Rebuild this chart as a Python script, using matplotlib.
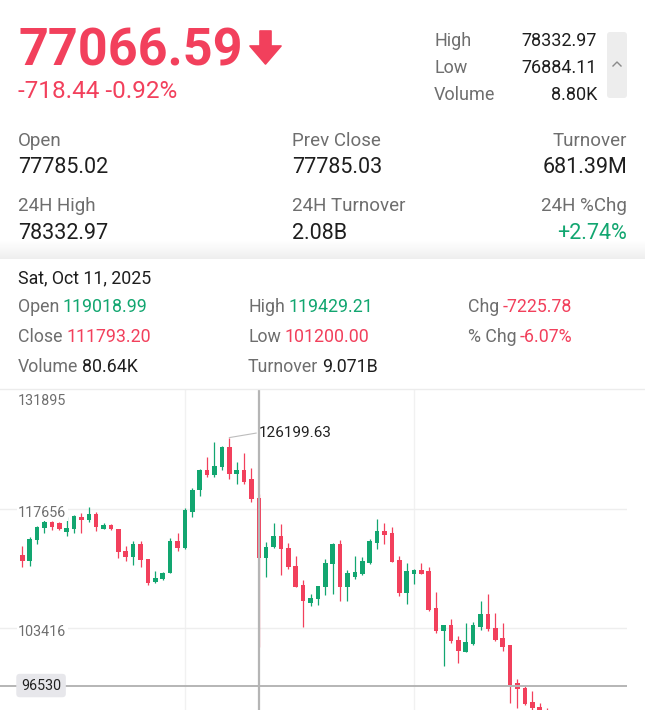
import numpy as np
import pandas as pd
import matplotlib
matplotlib.use('Agg')
import matplotlib.pyplot as plt
from matplotlib.patches import Polygon, FancyBboxPatch
from matplotlib.lines import Line2D
from matplotlib.transforms import IdentityTransform, offset_copy

plt.rcParams['font.family'] = ['Roboto', 'DejaVu Sans']

# daily candles, first one is Sep 9 2025
start_date = '2025-09-09'
opens = [112150, 111430, 113950, 115440, 116070, 116020, 114900, 115260, 116740, 116320,
         117100, 115260, 115740, 115300, 112630, 111910, 113410, 111670, 108920, 109280,
         110000, 113850, 112990, 117330, 119890, 122320, 121720, 122720, 125110, 121810,
         122320, 121210, 119018.99, 111760, 113110, 114370, 112950, 110840, 108560, 106440,
         106830, 108380, 111080, 113470, 108290, 109520, 109840, 111190, 113590, 115020,
         114750, 111550, 107570, 109850, 110360, 110240, 105770, 103090, 103780, 102030,
         100550, 101500, 103480, 105090, 103440, 102220, 101380, 96800, 96240, 94530,
         93960, 93300]
highs = [113230, 114300, 115680, 116640, 116280, 116140, 116660, 116940, 117130, 117900,
         117340, 116020, 115830, 115320, 113230, 113850, 113850, 111670, 110240, 110150,
         114210, 114790, 117720, 120110, 122440, 123880, 125710, 125200, 126199.63, 123320,
         124320, 122530, 119429.21, 113740, 115950, 115900, 113550, 112000, 109160, 107490,
         108500, 111640, 113550, 113950, 110300, 112070, 111970, 114070, 116420, 116040,
         115560, 112000, 111160, 110500, 111230, 110750, 107760, 103780, 104460, 102460,
         104050, 104140, 106680, 107490, 105250, 103980, 101380, 97290, 96480, 95840,
         94410, 93810]
lows = [110720, 110840, 113470, 114790, 115200, 115140, 114370, 114790, 114750, 116160,
        115080, 115230, 115140, 111790, 111430, 110900, 110660, 108560, 108840, 109160,
        110000, 112650, 112870, 116720, 119210, 121490, 121520, 122320, 121210, 120610,
        120650, 118530, 101200.00, 109560, 112990, 109760, 110420, 108320, 103480, 106050,
        106110, 107310, 107460, 106680, 106680, 109280, 109700, 111110, 112870, 113470,
        111350, 107250, 106270, 108650, 109880, 105510, 102860, 98870, 101590, 99190,
        100490, 101380, 103210, 103090, 101890, 100700, 94410, 93840, 94200, 93400,
        89500, 89900]
closes = [111430, 114070, 115500, 116070, 115560, 115230, 115350, 116860, 116320, 117060,
          115500, 115780, 115230, 112510, 111910, 113410, 111610, 108860, 109440, 110030,
          113850, 112990, 117540, 119970, 122320, 121670, 122840, 125110, 121840, 122320,
          120920, 118850, 111793.20, 113150, 114370, 112850, 110680, 108380, 106680, 106970,
          108480, 111190, 113470, 108290, 110000, 110060, 111430, 113850, 115020, 114550,
          111350, 107570, 110240, 110390, 109880, 105570, 103000, 103740, 101840, 100640,
          101710, 103780, 105090, 103260, 101980, 101140, 96540, 96090, 94360, 93810,
          91000, 91500]

price_ticks = [131895, 117656, 103416]
cross_date = '2025-10-11'
cross_price = 96530
peak_text = '126199.63'

RED = '#F2405C'
GREEN = '#12A670'
GRAY = '#6e6e6e'
DARK = '#1e1e1e'

W, H = 645, 710
fig = plt.figure(figsize=(W / 100, H / 100), dpi=100)
fig.patch.set_facecolor('white')


def put(x, y, s, size, color, ha='left', weight='normal'):
    # x, y in screen pixels from top-left, y is the baseline
    return fig.text(x / W, 1 - y / H, s, fontsize=size, color=color,
                    ha=ha, va='baseline', fontweight=weight)


# ---- header ----
put(18, 65, '77066.59', 37.5, RED, weight='bold')
arrow = [(260, 31), (271, 31), (271, 46), (281, 46), (265.5, 64), (250, 46), (260, 46)]
fig.add_artist(Polygon([(px, H - py) for px, py in arrow], closed=True, fc=RED, ec=RED,
                       lw=1.2, joinstyle='round', transform=IdentityTransform()))
put(18, 98, '-718.44 -0.92%', 17.5, RED)

for label, val, yb in [('High', '78332.97', 46.5), ('Low', '76884.11', 73), ('Volume', '8.80K', 100)]:
    put(434, yb, label, 13, GRAY)
    put(597, yb, val, 13, DARK, ha='right')
fig.add_artist(FancyBboxPatch((607, H - 98), 20, 66, boxstyle='round,pad=0,rounding_size=3',
                              fc='#ededed', ec='none', transform=IdentityTransform()))
fig.add_artist(Line2D([613, 617, 621], [H - 66, H - 62, H - 66], color='#8a8a8a', lw=1,
                      transform=IdentityTransform()))

put(18, 146, 'Open', 13.5, GRAY)
put(18, 173, '77785.02', 15.5, DARK)
put(292, 146, 'Prev Close', 13.5, GRAY)
put(292, 173, '77785.03', 15.5, DARK)
put(627, 146, 'Turnover', 13.5, GRAY, ha='right')
put(627, 173, '681.39M', 15.5, DARK, ha='right')
put(18, 211, '24H High', 13.5, GRAY)
put(18, 239, '78332.97', 15.5, DARK)
put(292, 211, '24H Turnover', 13.5, GRAY)
put(292, 239, '2.08B', 15.5, DARK)
put(627, 211, '24H %Chg', 13.5, GRAY, ha='right')
put(627, 239, '+2.74%', 15.5, GREEN, ha='right')

# soft shadow band under header
band = fig.add_axes([0, 1 - 259 / H, 1, 18 / H])
grad = np.linspace(1.0, 0.935, 40)[:, None]
band.imshow(np.dstack([grad, grad, grad]), aspect='auto', extent=(0, 1, 0, 1))
band.axis('off')

# ---- day info panel ----
renderer = fig.canvas.get_renderer()


def pair(x, y, label, val, color):
    t = put(x, y, label, 12.8, GRAY)
    bb = t.get_window_extent(renderer)
    fig.text((bb.x1 + 3.5) / W, 1 - y / H, val, fontsize=12.8, color=color,
             ha='left', va='baseline')


put(18, 283.5, 'Sat, Oct 11, 2025', 12.8, DARK)
pair(18, 312.5, 'Open', '119018.99', GREEN)
pair(248, 312.5, 'High', '119429.21', GREEN)
pair(468, 312.5, 'Chg', '-7225.78', RED)
pair(18, 342.5, 'Close', '111793.20', RED)
pair(248, 342.5, 'Low', '101200.00', RED)
pair(468, 342.5, '% Chg', '-6.07%', RED)
pair(18, 371.5, 'Volume', '80.64K', DARK)
pair(248, 371.5, 'Turnover', '9.071B', DARK)

fig.add_artist(Line2D([0, 1], [1 - 389 / H, 1 - 389 / H], color='#ececec', lw=1,
                      transform=fig.transFigure))

# ---- candle chart ----
ax = fig.add_axes([0, 0, 627 / W, 320 / H])
ax.set_facecolor('white')
for s in ax.spines.values():
    s.set_visible(False)
ax.set_xticks([])
ax.set_yticks([])

dates = pd.date_range(start_date, periods=len(opens), freq='D')
x = np.arange(len(opens))
o = np.array(opens)
hi = np.array(highs)
lo = np.array(lows)
c = np.array(closes)
cols = np.where(c >= o, GREEN, RED)

ax.vlines(x, lo, hi, colors=cols, lw=0.9, zorder=3)
ax.bar(x, np.maximum(np.abs(c - o), 120), bottom=np.minimum(o, c), width=0.62,
       color=cols, lw=0, zorder=3)

ax.set_xlim(-3.017, 81.82)
ax.set_ylim(93604, 131896)

for i in np.where(dates.day == 1)[0]:
    ax.axvline(i, color='#f1f1f1', lw=1, zorder=0)
for p in price_ticks[1:]:
    ax.axhline(p, color='#eeeeee', lw=1, zorder=0)

ytr = ax.get_yaxis_transform()
for k, p in enumerate(price_ticks):
    off = -15 if k == 0 else -8
    ax.text(18 / 627, p, str(p), fontsize=10.3, color=GRAY, ha='left', va='baseline',
            transform=offset_copy(ytr, fig=fig, x=0, y=off, units='dots'),
            bbox=dict(fc='white', ec='none', pad=1), zorder=4)

# crosshair
ci = int(np.where(dates == pd.Timestamp(cross_date))[0][0])
ax.axvline(ci, color='#b5b5b5', lw=1.6, zorder=6)
ax.axhline(cross_price, color='#b5b5b5', lw=1.4, zorder=6)
ax.text(21 / 627, cross_price, str(cross_price), fontsize=10.3, color='#222222',
        ha='left', va='center', transform=ytr, zorder=7,
        bbox=dict(boxstyle='round,pad=0.33,rounding_size=0.25', fc='#e7e7eb', ec='none'))

# peak label
pk = int(np.argmax(hi))
ax.annotate(peak_text, xy=(pk, hi[pk]), xytext=(21.5, 3.6), textcoords='offset points',
            fontsize=11, color='#222222', ha='left', va='center', zorder=7,
            arrowprops=dict(arrowstyle='-', color='#bdbdbd', lw=0.8, shrinkA=0, shrinkB=0,
                            relpos=(0, 0.5)))

fig.savefig('out.png', dpi=100, facecolor='white')
